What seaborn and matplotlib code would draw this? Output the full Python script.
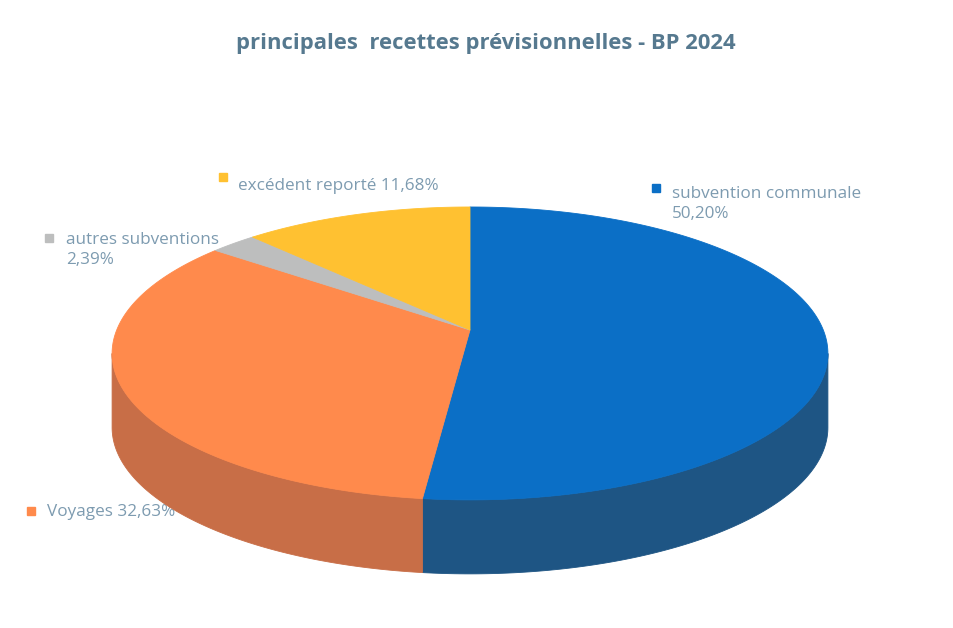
import numpy as np
import matplotlib.pyplot as plt
from matplotlib.patches import Polygon
import seaborn as sns

# données du graphique
categories = ['subvention communale', 'Voyages', 'autres subventions', 'excédent reporté']
valeurs = [50.20, 32.63, 2.39, 11.68]
etiquettes = ['subvention communale\n50,20%', 'Voyages 32,63%', 'autres subventions\n2,39%',
              'excédent reporté 11,68%']
couleurs = ['#0B6FC6', '#FF8A4C', '#BDBEBE', '#FFC131']
couleurs_cote = ['#1E5584', '#C86E47', '#8E8F8F', '#BF8F22']

sns.set_theme(style="white")
plt.rcParams['font.family'] = ['Open Sans', 'DejaVu Sans']

W, H = 954, 628
fig = plt.figure(figsize=(W / 100, H / 100), dpi=100)
ax = fig.add_axes([0, 0, 1, 1])

# camembert "3D" en perspective (coordonnées pixels)
cx, cy, A, B, k = 470, 330, 353.3, 142.7, 0.16
chute = 74


def proj(t, dz=0.0):
    x, y = np.cos(t), np.sin(t)
    w = 1 + k * y
    return np.column_stack([cx + A * x / w, cy - B * y / w + dz])


wedges, _ = ax.pie(valeurs, startangle=90, counterclock=False, radius=1)

t_g = np.degrees(np.pi + np.arcsin(k))       # silhouette gauche
t_d = np.degrees(2 * np.pi - np.arcsin(k))   # silhouette droite
for w, c, cc in zip(wedges, couleurs, couleurs_cote):
    w.set_visible(False)
    t1, t2 = w.theta1, w.theta2
    # face latérale visible
    for off in (0, 360, -360):
        l, h = max(t1 + off, t_g), min(t2 + off, t_d)
        if h > l:
            t = np.radians(np.linspace(l, h, 120))
            pts = np.vstack([proj(t), proj(t[::-1], chute)])
            ax.add_patch(Polygon(pts, closed=True, facecolor=cc, edgecolor=cc,
                                 linewidth=0.6, zorder=2))
    # face du dessus
    t = np.radians(np.linspace(t1, t2, 200))
    pts = np.vstack([[[cx, cy]], proj(t)])
    ax.add_patch(Polygon(pts, closed=True, facecolor=c, edgecolor=c, linewidth=0.6, zorder=3))

ax.set_aspect('auto')
ax.set_xlim(0, W)
ax.set_ylim(H, 0)
ax.axis('off')

# titre
fig.text(486 / W, 1 - 43 / H, 'principales  recettes prévisionnelles - BP 2024',
         ha='center', va='center', fontsize=15.8, fontweight='bold', color='#56798F')

# étiquettes avec carré de couleur
texte_col = '#7D9BB0'
pos = [(656, 188, 672, 204), (31, 511, 47, 512), (49, 238, 66, 250), (223, 177, 238, 186)]
for (mx, my, tx, ty), lab, c in zip(pos, etiquettes, couleurs):
    ax.plot(mx, my, marker='s', markersize=6, color=c, zorder=1)
    ax.text(tx, ty, lab, ha='left', va='center', fontsize=12.3, color=texte_col,
            linespacing=1.35, zorder=1)

fig.savefig('out.png', dpi=100)
